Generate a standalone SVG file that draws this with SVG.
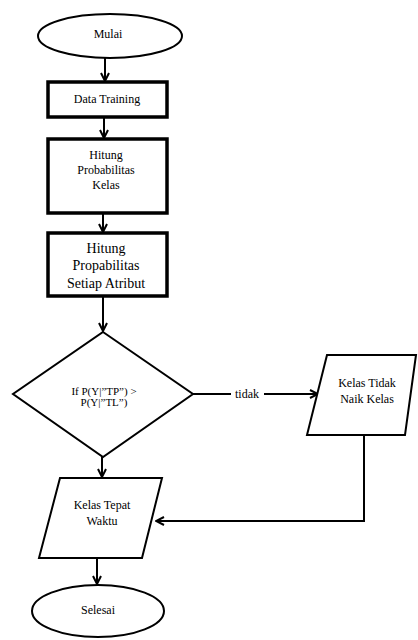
<svg xmlns="http://www.w3.org/2000/svg" width="418" height="640" viewBox="0 0 418 640">
<defs>
<marker id="arr" viewBox="0 0 10 10" refX="9" refY="5" markerWidth="10" markerHeight="10" markerUnits="userSpaceOnUse" orient="auto">
<path d="M1,1 L9,5 L1,9" fill="none" stroke="#000" stroke-width="2"/>
</marker>
<style>
.sh{fill:#fff;stroke:#000;stroke-width:2}
.bx{fill:#fff;stroke:#000;stroke-width:3.5}
.ln{fill:none;stroke:#000;stroke-width:2}
.t{fill:#000;text-anchor:middle}
</style>
</defs>
<rect width="418" height="640" fill="#fff"/>
<g id="connectors">
<line class="ln" x1="105" y1="58" x2="105" y2="81" marker-end="url(#arr)"/>
<line class="ln" x1="104" y1="118" x2="104" y2="138" marker-end="url(#arr)"/>
<line class="ln" x1="103" y1="214" x2="103" y2="232" marker-end="url(#arr)"/>
<line class="ln" x1="103" y1="297" x2="103" y2="331" marker-end="url(#arr)"/>
<line class="ln" x1="193" y1="394" x2="318" y2="394" marker-end="url(#arr)"/>
<line class="ln" x1="102" y1="457" x2="102" y2="477" marker-end="url(#arr)"/>
<polyline class="ln" points="364,435 364,521 156,521" marker-end="url(#arr)"/>
<line class="ln" x1="97" y1="558" x2="97" y2="584" marker-end="url(#arr)"/>
<rect x="231" y="387" width="33" height="14" fill="#fff"/>
<text class="t" font-family="Liberation Serif" font-size="12" x="247" y="398">tidak</text>
</g>
<g id="mulai">
<ellipse class="sh" cx="110" cy="36" rx="72" ry="22"/>
<text class="t" font-family="Liberation Serif" font-size="12" x="108" y="38">Mulai</text>
</g>
<g id="data-training">
<rect class="bx" x="48" y="82" width="119" height="35"/>
<text class="t" font-family="Liberation Serif" font-size="12" x="107" y="103">Data Training</text>
</g>
<g id="hitung-kelas">
<rect class="bx" x="48" y="139" width="119" height="74"/>
<text class="t" font-family="Liberation Serif" font-size="12" x="106" y="159">Hitung</text>
<text class="t" font-family="Liberation Serif" font-size="12" x="106" y="174">Probabilitas</text>
<text class="t" font-family="Liberation Serif" font-size="12" x="106" y="189">Kelas</text>
</g>
<g id="hitung-atribut">
<rect class="bx" x="48" y="233" width="119" height="63"/>
<text class="t" font-family="Liberation Serif" font-size="14" x="106" y="253">Hitung</text>
<text class="t" font-family="Liberation Serif" font-size="14" x="106" y="270">Propabilitas</text>
<text class="t" font-family="Liberation Serif" font-size="14" x="106" y="288">Setiap Atribut</text>
</g>
<g id="decision">
<polygon class="sh" points="103,332 193,394 103,457 13,394"/>
<text class="t" font-family="Liberation Serif" font-size="11" x="104" y="395">If P(Y|”TP”) &gt;</text>
<text class="t" font-family="Liberation Serif" font-size="11" x="104" y="406">P(Y|”TL”)</text>
</g>
<g id="tidak-naik">
<polygon class="sh" points="327,355 416,355 405,435 307,435"/>
<text class="t" font-family="Liberation Serif" font-size="12" x="367" y="387">Kelas Tidak</text>
<text class="t" font-family="Liberation Serif" font-size="12" x="367" y="403">Naik Kelas</text>
</g>
<g id="tepat-waktu">
<polygon class="sh" points="60,478 162,478 142,558 39,558"/>
<text class="t" font-family="Liberation Serif" font-size="12" x="102" y="509">Kelas Tepat</text>
<text class="t" font-family="Liberation Serif" font-size="12" x="102" y="525">Waktu</text>
</g>
<g id="selesai">
<ellipse class="sh" cx="98" cy="611" rx="66" ry="26"/>
<text class="t" font-family="Liberation Serif" font-size="12" x="98" y="614">Selesai</text>
</g>
</svg>
